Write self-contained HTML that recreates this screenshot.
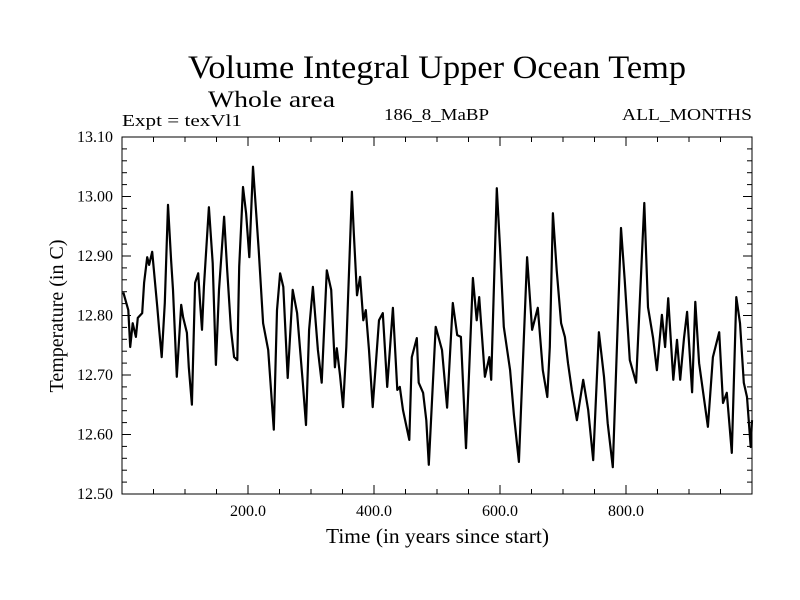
<!DOCTYPE html>
<html><head><meta charset="utf-8"><style>
body{margin:0;background:#fff;}
svg{display:block;font-family:"Liberation Serif",serif;}
</style></head><body>
<svg id="chart" width="800" height="600" viewBox="0 0 800 600" xmlns="http://www.w3.org/2000/svg">
<rect width="800" height="600" fill="#fff"/>
<text x="188" y="78" font-size="33" textLength="498" lengthAdjust="spacingAndGlyphs">Volume Integral Upper Ocean Temp</text>
<text x="208" y="107" font-size="23" textLength="127" lengthAdjust="spacingAndGlyphs">Whole area</text>
<text x="122" y="126" font-size="17" textLength="120" lengthAdjust="spacingAndGlyphs">Expt = texVl1</text>
<text x="384" y="120" font-size="17" textLength="105" lengthAdjust="spacingAndGlyphs">186_8_MaBP</text>
<text x="622" y="120" font-size="17" textLength="130" lengthAdjust="spacingAndGlyphs">ALL_MONTHS</text>
<text x="326" y="543" font-size="21" textLength="223" lengthAdjust="spacingAndGlyphs">Time (in years since start)</text>
<text x="0" y="0" font-size="20" text-anchor="middle" transform="translate(63,316) rotate(-90)">Temperature (in C)</text>
<g id="axes"></g>
<path id="series" fill="none" stroke="#000" stroke-width="2.2" stroke-linejoin="round"/>
<rect x="122" y="137" width="630" height="357" fill="none" stroke="#000" stroke-width="1"/>
</svg>
<script>
const years=[2,10,13,17,22,25,32,35,40,43,48,56,59,63,68,73,78,81,87,94,97,103,106,111,116,121,124,127,130,138,144,149,154,162,167,173,178,183,186,192,197,202,208,213,217,224,232,241,246,251,256,263,271,278,287,292,297,303,311,317,325,332,338,341,346,351,356,365,368,373,378,383,387,392,398,408,414,421,430,437,441,446,456,460,468,471,478,483,487,498,508,516,525,532,538,546,557,563,567,576,583,586,595,600,606,616,622,630,643,651,660,668,675,679,684,690,697,703,708,714,722,732,740,748,757,765,771,779,792,798,806,816,829,835,843,849,857,862,867,875,881,886,892,897,905,910,916,930,938,948,954,960,968,975,981,987,992,998,1000];
const temps=[12.839,12.809,12.747,12.787,12.764,12.796,12.804,12.855,12.898,12.885,12.907,12.814,12.776,12.730,12.821,12.986,12.893,12.843,12.697,12.818,12.797,12.771,12.713,12.650,12.855,12.871,12.821,12.776,12.848,12.982,12.888,12.717,12.843,12.966,12.876,12.776,12.730,12.725,12.882,13.016,12.972,12.898,13.050,12.972,12.910,12.787,12.742,12.608,12.809,12.871,12.848,12.695,12.843,12.804,12.687,12.616,12.776,12.848,12.742,12.687,12.876,12.843,12.713,12.745,12.700,12.646,12.747,13.008,12.939,12.834,12.865,12.792,12.809,12.742,12.646,12.792,12.804,12.680,12.813,12.675,12.680,12.641,12.591,12.730,12.762,12.687,12.670,12.624,12.549,12.781,12.742,12.645,12.821,12.767,12.764,12.577,12.863,12.792,12.831,12.697,12.730,12.692,13.014,12.915,12.781,12.708,12.633,12.554,12.898,12.776,12.813,12.708,12.663,12.747,12.972,12.876,12.787,12.764,12.720,12.675,12.624,12.692,12.641,12.557,12.772,12.697,12.619,12.545,12.947,12.860,12.725,12.687,12.989,12.814,12.762,12.708,12.801,12.747,12.829,12.692,12.759,12.692,12.762,12.806,12.671,12.823,12.720,12.613,12.730,12.772,12.653,12.670,12.569,12.831,12.787,12.687,12.663,12.579,12.624];
const xTickLabels=["200.0","400.0","600.0","800.0"];
const xTickValues=[200,400,600,800];
const yTickLabels=["12.50","12.60","12.70","12.80","12.90","13.00","13.10"];
const yTickValues=[12.5,12.6,12.7,12.8,12.9,13.0,13.1];

const X0=122,X1=752,Y0=494,Y1=137,XMIN=0,XMAX=1000,YMIN=12.5,YMAX=13.1;
function xs(v){return X0+(v-XMIN)/(XMAX-XMIN)*(X1-X0);}
function ys(v){return Y0-(v-YMIN)/(YMAX-YMIN)*(Y0-Y1);}
const NS="http://www.w3.org/2000/svg";
const g=document.getElementById('axes');
function line(x1,y1,x2,y2,name){
  const l=document.createElementNS(NS,'line');
  l.setAttribute('x1',x1);l.setAttribute('y1',y1);l.setAttribute('x2',x2);l.setAttribute('y2',y2);
  l.setAttribute('stroke','#000');l.setAttribute('stroke-width','1');
  
  
  g.appendChild(l);
}
function text(x,y,s,anchor,name){
  const t=document.createElementNS(NS,'text');
  t.setAttribute('x',x);t.setAttribute('y',y);t.setAttribute('font-size','16');t.setAttribute('text-anchor',anchor);
  t.textContent=s;
  
  
  g.appendChild(t);
}
for(let v=50;v<1000;v+=50){
  const x=xs(v);const major=v%200===0;const L=major?9:5;
  line(x,Y0,x,Y0-L,'x-tick');
  line(x,Y1,x,Y1+L,'x-tick-top');
}
for(let i=0;i<=30;i++){
  const v=YMIN+i*0.02;const y=ys(v);const major=i%5===0;const L=major?9:5;
  line(X0,y,X0+L,y,'y-tick');
  line(X1,y,X1-L,y,'y-tick-right');
}
xTickValues.forEach((v,i)=>text(xs(v),516,xTickLabels[i],'middle','x-tick-label'));
yTickValues.forEach((v,i)=>text(113,ys(v)+5,yTickLabels[i],'end','y-tick-label'));
let d='';
years.forEach((yr,i)=>{d+=(i?'L':'M')+xs(yr).toFixed(1)+','+ys(temps[i]).toFixed(1);});
document.getElementById('series').setAttribute('d',d);
</script>
</body></html>
